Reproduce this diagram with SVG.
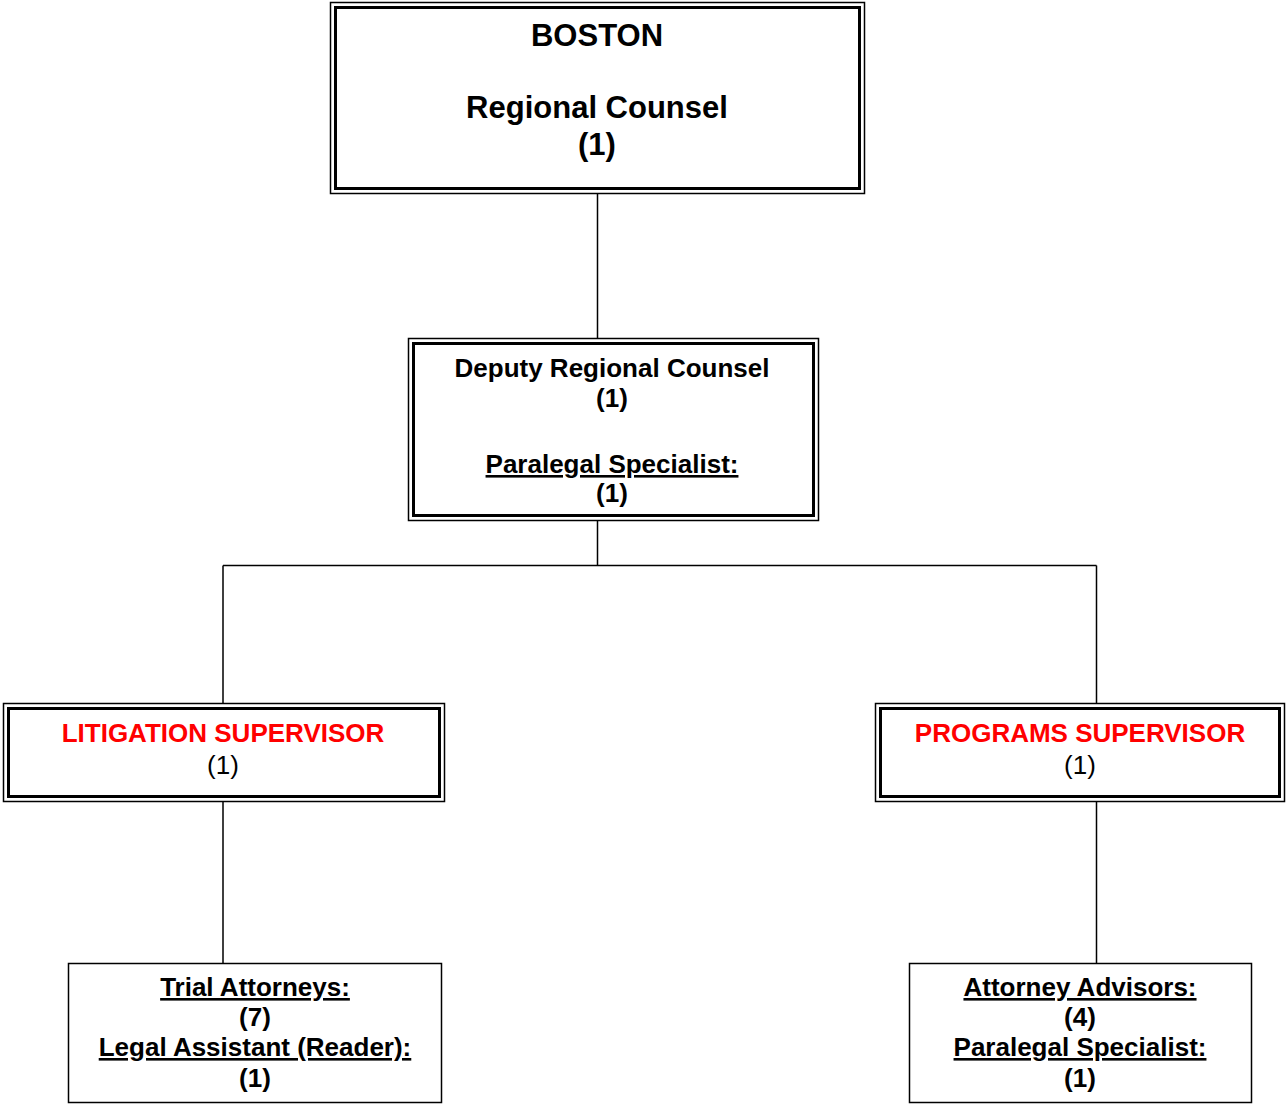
<svg xmlns="http://www.w3.org/2000/svg" width="1286" height="1104" viewBox="0 0 1286 1104">
<style>
.o{fill:none;stroke:#000;stroke-width:1.5}
.i{fill:none;stroke:#000;stroke-width:3}
.s{fill:none;stroke:#000;stroke-width:1.5}
.c{fill:none;stroke:#000;stroke-width:1.5}
text{font-family:"Liberation Sans",Arial,sans-serif;text-anchor:middle;fill:#000}
.b{font-weight:bold;font-size:26px}
.n{font-size:26px}
.big{font-weight:bold;font-size:31px}
.r{fill:#ff0000}
.u{text-decoration:underline}
</style>
<rect width="1286" height="1104" fill="#fff"/>
<g id="connectors">
<path class="c" d="M597.5 194V338M597.5 521V565.5M223 565.5H1096.5M223 565.5V703M1096.5 565.5V703M223 802V963M1096.5 802V963"/>
</g>
<g id="boston">
<rect class="o" x="330.5" y="2.5" width="534" height="191"/>
<rect class="i" x="335.5" y="7.5" width="524" height="181"/>
<text class="big" x="597" y="46">BOSTON</text>
<text class="big" x="597" y="118">Regional Counsel</text>
<text class="big" x="597" y="155">(1)</text>
</g>
<g id="deputy">
<rect class="o" x="408.5" y="338.5" width="410" height="182"/>
<rect class="i" x="413.5" y="343.5" width="400" height="172"/>
<text class="b" x="612" y="377">Deputy Regional Counsel</text>
<text class="b" x="612" y="407">(1)</text>
<text class="b u" x="612" y="473">Paralegal Specialist:</text>
<text class="b" x="612" y="502">(1)</text>
</g>
<g id="litigation">
<rect class="o" x="3.5" y="703.5" width="441" height="98"/>
<rect class="i" x="8.5" y="708.5" width="431" height="88"/>
<text class="b r" x="223" y="742">LITIGATION SUPERVISOR</text>
<text class="n" x="223" y="774">(1)</text>
</g>
<g id="programs">
<rect class="o" x="875.5" y="703.5" width="409" height="98"/>
<rect class="i" x="880.5" y="708.5" width="399" height="88"/>
<text class="b r" x="1080" y="742">PROGRAMS SUPERVISOR</text>
<text class="n" x="1080" y="774">(1)</text>
</g>
<g id="trial">
<rect class="s" x="68.5" y="963.5" width="373" height="139"/>
<text class="b u" x="255" y="996">Trial Attorneys:</text>
<text class="b" x="255" y="1026">(7)</text>
<text class="b u" x="255" y="1056">Legal Assistant (Reader):</text>
<text class="b" x="255" y="1087">(1)</text>
</g>
<g id="advisors">
<rect class="s" x="909.5" y="963.5" width="342" height="139"/>
<text class="b u" x="1080" y="996">Attorney Advisors:</text>
<text class="b" x="1080" y="1026">(4)</text>
<text class="b u" x="1080" y="1056">Paralegal Specialist:</text>
<text class="b" x="1080" y="1087">(1)</text>
</g>
</svg>
